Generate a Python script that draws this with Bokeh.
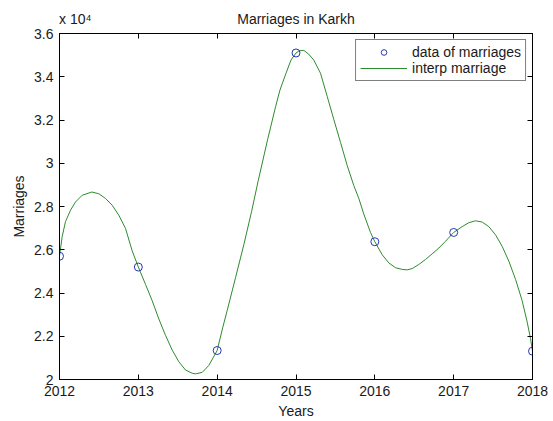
from bokeh.plotting import figure
from bokeh.models import Range1d, FixedTicker, LinearAxis, Legend, LegendItem
from bokeh.embed import file_html
from bokeh.resources import INLINE

# ---- data ----
years = [2012, 2013, 2014, 2015, 2016, 2017, 2018]
marriages = [25700, 25200, 21340, 35100, 26370, 26800, 21310]

curve_years = [
    2012.000, 2012.034, 2012.076, 2012.140, 2012.203, 2012.288, 2012.410, 2012.499,
    2012.584, 2012.668, 2012.752, 2012.837, 2012.922, 2013.000,
    2013.091, 2013.176, 2013.260, 2013.345, 2013.430, 2013.514, 2013.598, 2013.683,
    2013.725, 2013.810, 2013.894, 2014.000,
    2014.072, 2014.127, 2014.233, 2014.338, 2014.436, 2014.521, 2014.641, 2014.742,
    2014.797, 2014.873, 2014.936, 2015.000,
    2015.040, 2015.099, 2015.160, 2015.226, 2015.311, 2015.396, 2015.480, 2015.565,
    2015.650, 2015.733, 2015.797, 2015.860, 2015.945, 2016.000,
    2016.093, 2016.178, 2016.262, 2016.347, 2016.410, 2016.474, 2016.558, 2016.643,
    2016.727, 2016.812, 2016.896, 2017.000,
    2017.108, 2017.192, 2017.277, 2017.362, 2017.446, 2017.531, 2017.615, 2017.700,
    2017.785, 2017.869, 2017.933, 2017.975, 2018.000,
]
curve_marriages = [
    25700, 26610, 27300, 27830, 28210, 28520, 28670, 28590,
    28370, 28060, 27600, 26990, 25950, 25200,
    24400, 23640, 22800, 22040, 21360, 20820, 20440, 20290,
    20260, 20330, 20650, 21340,
    22420, 23190, 24710, 26230, 27760, 29200, 31110, 32630,
    33390, 34160, 34770, 35100,
    35200, 35220, 35050, 34770, 34160, 33090, 32020, 30960,
    29890, 28970, 28370, 27650, 26800, 26370,
    25770, 25390, 25170, 25090, 25070, 25130, 25320, 25550,
    25810, 26080, 26390, 26800,
    27070, 27250, 27340, 27280, 27070, 26690, 26160, 25470,
    24630, 23640, 22650, 21890, 21310,
]

x_ticks = [2012, 2013, 2014, 2015, 2016, 2017, 2018]
y_ticks = [20000, 22000, 24000, 26000, 28000, 30000, 32000, 34000, 36000]
y_tick_labels = ["2", "2.2", "2.4", "2.6", "2.8", "3", "3.2", "3.4", "3.6"]

title_text = "Marriages in Karkh"
x_label = "Years"
y_label = "Marriages"
exp_text = "x 10\u2074"
legend_labels = ["data of marriages", "interp marriage"]

# where the header texts sit along the top edge (x in years)
header_pos = [2012.2, 2015.0]
header_texts = [exp_text, title_text]

FONT = "Liberation Sans"
TXT = "#1a1a1a"
FS = "14px"

p = figure(width=553, height=421,
           x_range=Range1d(2012, 2018), y_range=Range1d(20000, 36000),
           output_backend="svg", toolbar_location=None,
           min_border_left=59, min_border_right=21,
           min_border_top=33, min_border_bottom=38)
p.background_fill_color = "white"
p.border_fill_color = "white"
p.outline_line_color = "black"
p.xgrid.visible = False
p.ygrid.visible = False

xa = p.xaxis[0]
xa.ticker = FixedTicker(ticks=x_ticks)
xa.axis_label = x_label
xa.axis_label_standoff = 4
ya = p.yaxis[0]
ya.ticker = FixedTicker(ticks=y_ticks)
ya.major_label_overrides = {t: l for t, l in zip(y_ticks, y_tick_labels)}
ya.axis_label = y_label
ya.axis_label_standoff = 4

for ax, standoff in ((xa, 6), (ya, 6)):
    ax.major_tick_in = 5
    ax.major_tick_out = 0
    ax.minor_tick_in = 0
    ax.minor_tick_out = 0
    ax.minor_tick_line_color = None
    ax.axis_line_color = "black"
    ax.major_tick_line_color = "black"
    ax.major_label_text_font = FONT
    ax.major_label_text_font_size = FS
    ax.major_label_text_color = TXT
    ax.major_label_standoff = standoff
    ax.axis_label_text_font = FONT
    ax.axis_label_text_font_size = FS
    ax.axis_label_text_font_style = "normal"
    ax.axis_label_text_color = TXT

# mirrored tick axes (top and right), without labels
for loc, ticks in (("above", x_ticks), ("right", y_ticks)):
    ax = LinearAxis(ticker=FixedTicker(ticks=ticks),
                    major_tick_in=5, major_tick_out=0,
                    minor_tick_in=0, minor_tick_out=0,
                    minor_tick_line_color=None,
                    major_label_text_font_size="0px",
                    major_label_standoff=0,
                    axis_line_color="black", major_tick_line_color="black")
    p.add_layout(ax, loc)

# header line: exponent marker and title
header = LinearAxis(ticker=FixedTicker(ticks=header_pos),
                    major_label_overrides={t: s for t, s in zip(header_pos, header_texts)},
                    major_tick_in=0, major_tick_out=0,
                    minor_tick_in=0, minor_tick_out=0,
                    major_tick_line_color=None, minor_tick_line_color=None,
                    axis_line_color=None,
                    major_label_standoff=7,
                    major_label_text_font=FONT, major_label_text_font_size=FS,
                    major_label_text_color=TXT)
p.add_layout(header, "above")

r_line = p.line(curve_years, curve_marriages, line_color="#2e8b2e", line_width=1)
r_pts = p.scatter(years, marriages, marker="circle", size=8,
                  fill_color=None, line_color="#2838b0", line_width=1)

legend = Legend(items=[LegendItem(label=legend_labels[0], renderers=[r_pts]),
                       LegendItem(label=legend_labels[1], renderers=[r_line])],
                location="top_right")
legend.margin = 6
legend.padding = 4
legend.spacing = 0
legend.label_height = 14
legend.glyph_height = 14
legend.glyph_width = 47
legend.label_standoff = 5
legend.label_text_font = FONT
legend.label_text_font_size = FS
legend.label_text_color = TXT
legend.border_line_color = "black"
legend.border_line_width = 1
legend.background_fill_color = "white"
legend.background_fill_alpha = 1
p.add_layout(legend)

open("out.html", "w").write(file_html(p, INLINE))
